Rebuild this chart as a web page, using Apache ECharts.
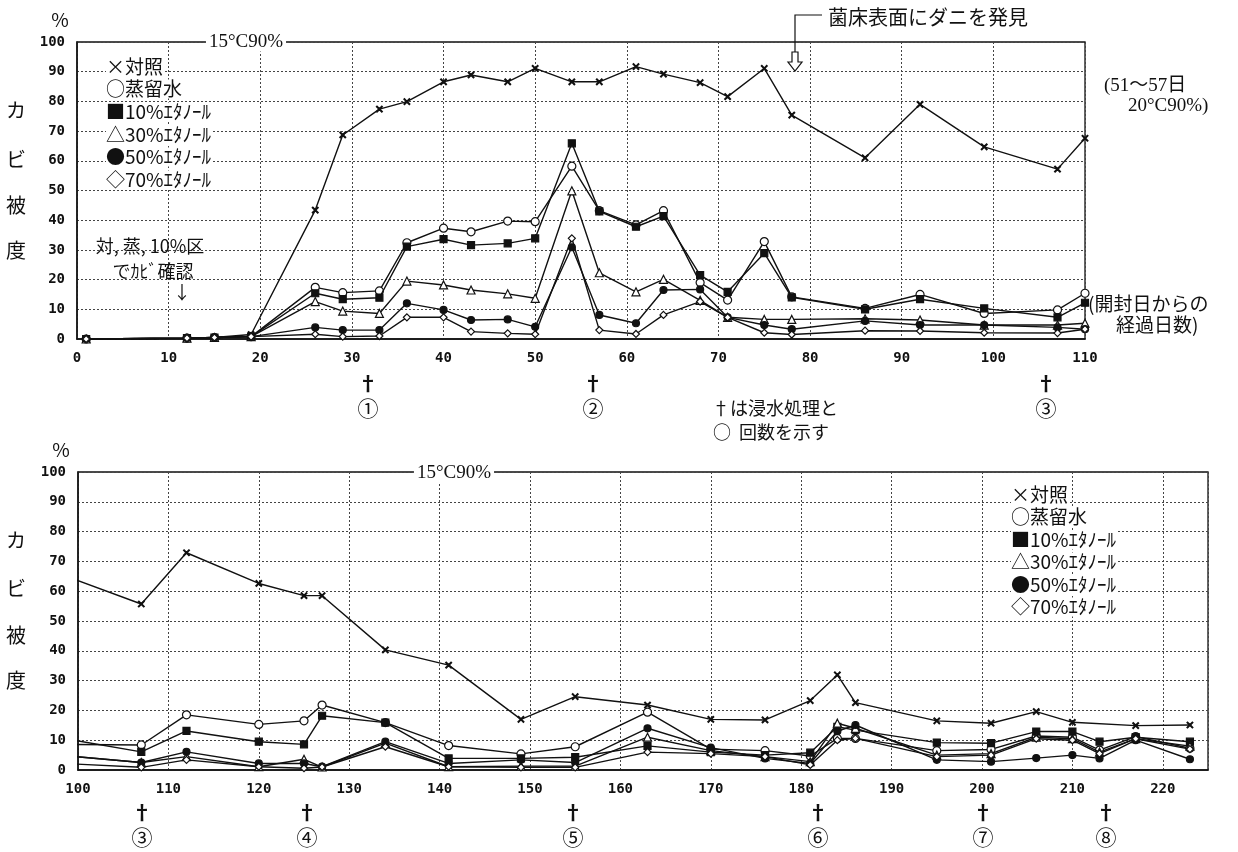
<!DOCTYPE html>
<html>
<head>
<meta charset="utf-8">
<title>カビ被度</title>
<script src="https://cdn.jsdelivr.net/npm/echarts@6.0.0/dist/echarts.min.js"></script>
<style>
  html, body { margin: 0; padding: 0; background: #fff; }
  #chart { width: 1238px; height: 852px; }
</style>
</head>
<body>
<div id="chart"></div>
<script>
  // 上段: 開封日からの経過日数 0〜110
  const topDays = [1, 12, 15, 19, 26, 29, 33, 36, 40, 43, 47, 50, 54, 57, 61, 64, 68, 71, 75, 78, 86, 92, 99, 107, 110];
  const topControl = [0, 0.3, 0.5, 1.5, 43.4, 68.7, 77.4, 79.9, 86.6, 88.9, 86.6, 91.1, 86.6, 86.6, 91.7, 89.2, 86.3, 81.6, 91.1, 75.4, 61.0, 79.0, 64.7, 57.2, 67.6];
  const topWater   = [0, 0.3, 0.5, 0.8, 17.4, 15.6, 16.2, 32.4, 37.3, 36.1, 39.7, 39.5, 58.2, 43.2, 38.4, 43.2, 19.0, 13.1, 32.8, 14.2, 10.3, 15.0, 8.6, 9.8, 15.4];
  const topEth10   = [0, 0.3, 0.5, 0.8, 15.4, 13.4, 13.9, 31.1, 33.6, 31.6, 32.2, 33.9, 65.9, 43.0, 37.8, 41.4, 21.5, 15.9, 28.9, 14.0, 10.0, 13.4, 10.3, 7.3, 12.2];
  const topEth30   = [0, 0.3, 0.5, 0.8, 12.6, 9.4, 8.6, 19.5, 18.2, 16.5, 15.2, 13.7, 49.9, 22.3, 15.9, 20.1, 13.0, 7.3, 6.6, 6.6, 6.8, 6.4, 4.7, 4.7, 5.3];
  const topEth50   = [0, 0.3, 0.5, 0.8, 3.9, 3.0, 3.0, 12.0, 9.8, 6.4, 6.6, 4.1, 30.9, 8.1, 5.3, 16.5, 16.7, 7.3, 4.7, 3.3, 6.1, 4.7, 4.7, 3.9, 3.3];
  const topEth70   = [0, 0.3, 0.5, 0.8, 1.6, 0.8, 1.0, 7.3, 7.3, 2.5, 1.9, 1.6, 33.9, 3.0, 1.7, 8.1, 12.6, 7.3, 2.1, 1.5, 2.8, 2.7, 2.1, 2.0, 3.3];

  // 下段: 100〜223日 (99日は上段からの続き)
  const bottomDays = [99, 107, 112, 120, 125, 127, 134, 141, 149, 155, 163, 170, 176, 181, 184, 186, 195, 201, 206, 210, 213, 217, 223];
  const bottomControl = [64.7, 55.7, 72.9, 62.6, 58.5, 58.5, 40.3, 35.2, 17.0, 24.6, 21.8, 17.0, 16.8, 23.3, 31.9, 22.6, 16.5, 15.7, 19.6, 16.0, null, 14.9, 15.1];
  const bottomWater   = [8.6, 8.4, 18.5, 15.3, 16.5, 21.8, 15.9, 8.2, 5.4, 7.8, 19.4, 7.0, 6.5, 4.7, 10.6, 10.6, 6.5, 6.9, 11.4, 11.0, 6.7, 11.2, 7.3];
  const bottomEth10   = [10.3, 6.1, 13.1, 9.5, 8.6, 18.2, 15.9, 3.9, 3.9, 4.3, 8.1, 6.0, 5.0, 5.8, 14.5, 13.4, 9.2, 9.0, 12.9, 12.9, 9.5, 11.0, 9.5];
  const bottomEth30   = [4.7, 2.5, 4.5, 1.1, 3.6, 1.0, 9.0, 1.1, 1.3, 1.3, 11.0, 6.5, 4.5, 2.8, 15.7, 14.0, 5.0, 5.5, 11.0, 10.5, 6.0, 10.5, 8.0];
  const bottomEth50   = [4.7, 2.5, 6.1, 2.2, 2.2, 1.1, 9.5, 2.2, 3.4, 2.5, 14.0, 7.5, 3.9, 2.2, 13.0, 15.1, 3.4, 2.8, 4.0, 5.0, 3.9, 10.0, 3.6];
  const bottomEth70   = [2.1, 0.9, 3.4, 1.1, 0.6, 1.0, 7.8, 1.1, 0.9, 0.9, 6.0, 5.5, 4.5, 1.7, 10.0, 10.6, 4.5, 5.0, 10.5, 10.0, 5.5, 10.5, 7.0];

  const seriesNames = ['対照', '蒸留水', '10%ｴﾀﾉｰﾙ', '30%ｴﾀﾉｰﾙ', '50%ｴﾀﾉｰﾙ', '70%ｴﾀﾉｰﾙ'];
  const legendLabels = ['×対照', '○蒸留水', '■10%ｴﾀﾉｰﾙ', '△30%ｴﾀﾉｰﾙ', '●50%ｴﾀﾉｰﾙ', '◇70%ｴﾀﾉｰﾙ'];

  const crossPath = 'path://M0,1L1,0L5,4L9,0L10,1L6,5L10,9L9,10L5,6L1,10L0,9L4,5Z';
  const marks = [
    { symbol: crossPath, size: 6, fill: '#111' },
    { symbol: 'circle', size: 8, fill: '#fff' },
    { symbol: 'rect', size: 7, fill: '#111' },
    { symbol: 'triangle', size: 8, fill: '#fff' },
    { symbol: 'circle', size: 7, fill: '#111' },
    { symbol: 'diamond', size: 7, fill: '#fff' }
  ];

  function pairs(days, vals) {
    return days.map((d, i) => [d, vals[i] === null ? '-' : vals[i]]);
  }

  function makeSeries(days, list, idx) {
    return list.map((vals, k) => ({
      name: seriesNames[k],
      type: 'line',
      xAxisIndex: idx,
      yAxisIndex: idx,
      data: pairs(days, vals),
      symbol: marks[k].symbol,
      symbolSize: marks[k].size,
      showAllSymbol: true,
      connectNulls: true,
      clip: true,
      lineStyle: { color: '#111', width: 1.4 },
      itemStyle: { color: marks[k].fill, borderColor: '#111', borderWidth: 1.2 },
      z: 3 + k
    }));
  }

  const jp = '"Noto Sans CJK JP", sans-serif';
  const serif = '"Liberation Serif", "Noto Sans CJK JP", serif';

  function txt(x, y, text, size, extra) {
    return {
      type: 'text', x: x, y: y, z: 50,
      style: Object.assign({
        text: text, fontSize: size, fontFamily: jp, fill: '#111',
        textVerticalAlign: 'middle'
      }, extra || {})
    };
  }

  let myChart = echarts.init(document.getElementById('chart'));

  let axisLabelStyle = {
    color: '#111', fontFamily: '"DejaVu Sans Mono", monospace', fontWeight: 'bold', fontSize: 14
  };
  let split = { show: true, lineStyle: { color: '#444', type: [2, 2], width: 1 } };

  let graphic = [];
  graphic.push(txt(60, 20, '%', 19, { textAlign: 'center' }));
  graphic.push(txt(61, 450, '%', 19, { textAlign: 'center' }));
  ['カ', 'ビ', '被', '度'].forEach((c, i) => {
    graphic.push(txt(16, [110, 159, 205, 250][i], c, 20, { textAlign: 'center' }));
    graphic.push(txt(16, [540, 588, 635, 680][i], c, 20, { textAlign: 'center' }));
  });
  graphic.push(txt(246, 42, '15°C90%', 19, { textAlign: 'center', fontFamily: serif, backgroundColor: '#fff', padding: [0, 3] }));
  graphic.push(txt(454, 473, '15°C90%', 19, { textAlign: 'center', fontFamily: serif, backgroundColor: '#fff', padding: [0, 3] }));
  legendLabels.forEach((s, i) => {
    graphic.push(txt(106, [67, 89, 112, 135, 157, 180][i], s, 19, { backgroundColor: '#fff' }));
    graphic.push(txt(1011, [495, 517, 540, 562, 585, 607][i], s, 19, { backgroundColor: '#fff' }));
  });
  graphic.push(txt(150, 246, '対, 蒸, 10%区', 18, { textAlign: 'center' }));
  graphic.push(txt(153, 271, 'でｶﾋﾞ確認', 18, { textAlign: 'center' }));
  graphic.push(txt(182, 292, '↓', 18, { textAlign: 'center' }));
  graphic.push(txt(828, 17, '菌床表面にダニを発見', 20, { backgroundColor: '#fff' }));
  graphic.push({ type: 'polyline', z: 50, shape: { points: [[822, 15], [795, 15], [795, 52]] }, style: { stroke: '#111', lineWidth: 1.2, fill: null } });
  graphic.push({ type: 'polygon', z: 50, shape: { points: [[792, 52], [798, 52], [798, 62], [802, 62], [795, 71], [788, 62], [792, 62]] }, style: { stroke: '#111', lineWidth: 1.2, fill: '#fff' } });
  graphic.push(txt(1104, 86, '(51〜57日', 19, { fontFamily: serif }));
  graphic.push(txt(1128, 106, '20°C90%)', 19, { fontFamily: serif }));
  graphic.push(txt(1088, 304, '(開封日からの', 19));
  graphic.push(txt(1116, 325, '経過日数)', 19));
  graphic.push(txt(712, 408, '†は浸水処理と', 18));
  graphic.push(txt(713, 432, '○  回数を示す', 18));

  // 浸水処理の印
  const topMarks = [[368, '①'], [593, '②'], [1046, '③']];
  const bottomMarks = [[142, '③'], [307, '④'], [573, '⑤'], [818, '⑥'], [983, '⑦'], [1106, '⑧']];
  topMarks.forEach(m => {
    graphic.push(txt(m[0], 383, '†', 20, { textAlign: 'center', fontWeight: 'bold' }));
    graphic.push(txt(m[0], 408, m[1], 21, { textAlign: 'center' }));
  });
  bottomMarks.forEach(m => {
    graphic.push(txt(m[0], 812, '†', 20, { textAlign: 'center', fontWeight: 'bold' }));
    graphic.push(txt(m[0], 837, m[1], 21, { textAlign: 'center' }));
  });

  let option = {
    animation: false,
    backgroundColor: '#fff',
    grid: [
      { left: 77, top: 42, width: 1008, height: 297, show: true, borderColor: '#111', borderWidth: 1.3 },
      { left: 78, top: 472, width: 1130, height: 298, show: true, borderColor: '#111', borderWidth: 1.3 }
    ],
    xAxis: [
      {
        type: 'value', gridIndex: 0, min: 0, max: 110, interval: 10,
        axisLine: { lineStyle: { color: '#111', width: 1.5 } },
        axisTick: { show: false },
        axisLabel: Object.assign({ margin: 12 }, axisLabelStyle),
        splitLine: split
      },
      {
        type: 'value', gridIndex: 1, min: 100, max: 225, interval: 10,
        axisLine: { lineStyle: { color: '#111', width: 1.5 } },
        axisTick: { show: false },
        axisLabel: Object.assign({ margin: 12, formatter: v => (v % 10 === 0 ? v : '') }, axisLabelStyle),
        splitLine: split
      }
    ],
    yAxis: [
      {
        type: 'value', gridIndex: 0, min: 0, max: 100, interval: 10,
        axisLine: { show: true, lineStyle: { color: '#111', width: 1.5 } },
        axisTick: { show: false },
        axisLabel: Object.assign({ margin: 12 }, axisLabelStyle),
        splitLine: split
      },
      {
        type: 'value', gridIndex: 1, min: 0, max: 100, interval: 10,
        axisLine: { show: true, lineStyle: { color: '#111', width: 1.5 } },
        axisTick: { show: false },
        axisLabel: Object.assign({ margin: 12 }, axisLabelStyle),
        splitLine: split
      }
    ],
    graphic: graphic,
    series: [].concat(
      makeSeries(topDays, [topControl, topWater, topEth10, topEth30, topEth50, topEth70], 0),
      makeSeries(bottomDays, [bottomControl, bottomWater, bottomEth10, bottomEth30, bottomEth50, bottomEth70], 1)
    )
  };

  myChart.setOption(option);
</script>
</body>
</html>
